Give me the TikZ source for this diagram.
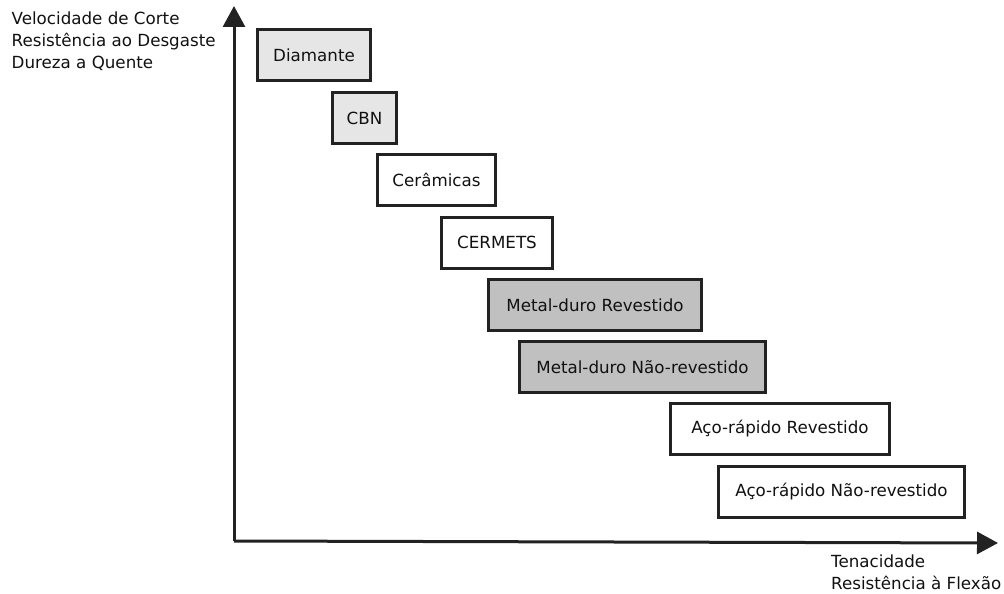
\documentclass[tikz,border=0pt]{standalone}
\usepackage{fontspec}
\setmainfont{DejaVu Sans}
\usetikzlibrary{arrows.meta}
\definecolor{edge}{HTML}{222222}
\definecolor{lightfill}{HTML}{E6E6E6}
\definecolor{midfill}{HTML}{C0C0C0}
\definecolor{ink}{HTML}{111111}
\begin{document}
\begin{tikzpicture}[x=1pt,y=-1pt,
  every node/.style={font=\fontsize{16.7}{20}\selectfont, text=ink},
  tool/.style={draw=edge, line width=3pt, rectangle, inner sep=0pt,
    minimum height=51pt, fill=white},
  light/.style={tool, fill=lightfill},
  mid/.style={tool, fill=midfill},
  axis/.style={draw=edge, line width=3pt, -{Triangle[length=21pt,width=22pt]}},
  caption/.style={anchor=base west, inner sep=0pt}]
\useasboundingbox (0,0) rectangle (1004,594);

% tool material classes, ordered from hardest to toughest
\node[light, minimum width=113pt] (diam) at (314,55.5) {Diamante};
\node[light, minimum width=64pt] (cbn) at (364.5,118) {CBN};
\node[tool, minimum width=118pt] (cer) at (436.5,180) {Cerâmicas};
\node[tool, minimum width=111pt] (cermet) at (497,242.5) {CERMETS};
\node[mid, minimum width=213pt] (mdr) at (595,305) {Metal-duro Revestido};
\node[mid, minimum width=246pt] (mdnr) at (642.5,367) {Metal-duro Não-revestido};
\node[tool, minimum width=219pt] (arr) at (780,429) {Aço-rápido Revestido};
\node[tool, minimum width=246pt] (arnr) at (841.5,491.5) {Aço-rápido Não-revestido};

% axes
\coordinate (origin) at (234,541);
\coordinate (ytip) at (234,6);
\coordinate (xtip) at (998,543);
\draw[axis] (origin) -- (ytip);
\draw[axis] (origin) -- (xtip);

% axis captions
\node[caption] (ya) at (11.5,25) {Velocidade de Corte};
\node[caption] (yb) at (11.5,47) {Resistência ao Desgaste};
\node[caption] (yc) at (11.5,68.5) {Dureza a Quente};
\node[caption] (xa) at (831,567) {Tenacidade};
\node[caption] (xb) at (831,589.5) {Resistência à Flexão};
\end{tikzpicture}
\end{document}
